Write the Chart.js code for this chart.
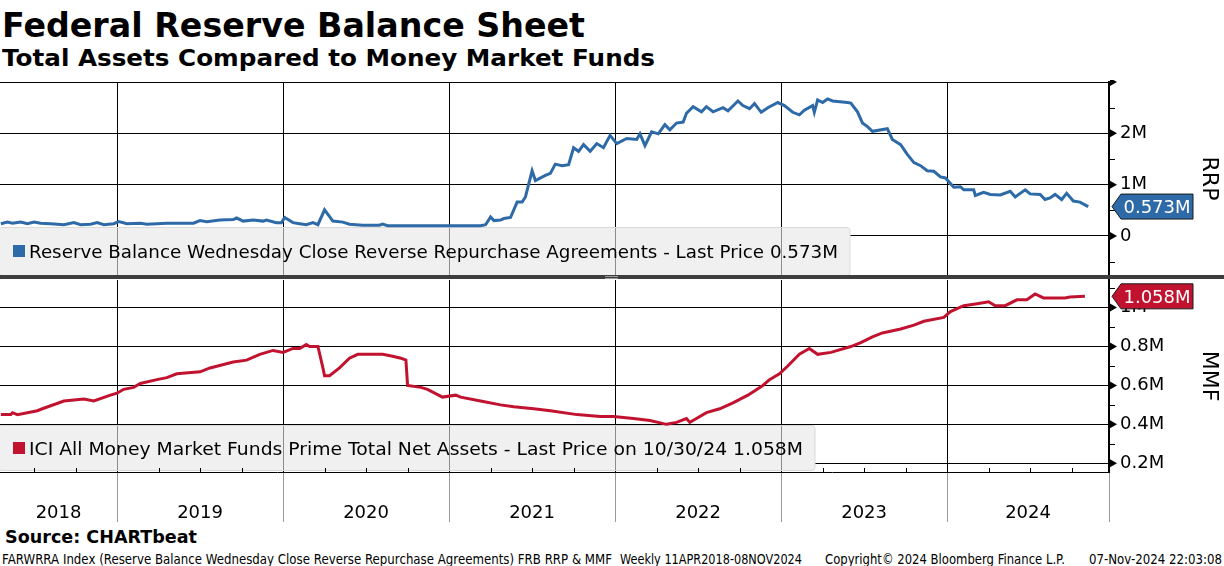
<!DOCTYPE html>
<html>
<head>
<meta charset="utf-8">
<script src="https://cdn.jsdelivr.net/npm/chart.js@4.4.1/dist/chart.umd.min.js"></script>
<style>
	body { margin: 0; background: #fff; width: 1224px; height: 566px; overflow: hidden; position: relative; font-family: "DejaVu Sans", sans-serif; color: #000; }
	.t { position: absolute; white-space: nowrap; line-height: 1; transform-origin: 0 50%; }
	.b { font-weight: bold; }
	canvas { position: absolute; left: 0; }
	#sep { position: absolute; left: 0; top: 275px; width: 1224px; height: 4px; background: #3d3d3d; }
	#grip { position: absolute; left: 605px; top: 276px; width: 13px; height: 1px; border-top: 1px solid #9a9a9a; border-bottom: 1px solid #9a9a9a; }
	.badge { position: absolute; width: 72px; text-align: center; color: #fff; font-size: 18px; line-height: 1; }
</style>
</head>
<body>
<div class="t b" style="left:2px;top:7.6px;font-size:34px" data-w="583">Federal Reserve Balance Sheet</div>
<div class="t b" style="left:2px;top:47.3px;font-size:23px" data-w="653">Total Assets Compared to Money Market Funds</div>

<canvas id="rrpChart" width="1224" height="195" style="top:80px"></canvas>
<div id="sep"></div><div id="grip"></div>
<canvas id="mmfChart" width="1224" height="243" style="top:279px"></canvas>

<div class="t" style="left:29px;top:243px;font-size:18px" data-w="809">Reserve Balance Wednesday Close Reverse Repurchase Agreements - Last Price 0.573M</div>
<div class="t" style="left:29px;top:440.3px;font-size:18px" data-w="774">ICI All Money Market Funds Prime Total Net Assets - Last Price on 10/30/24 1.058M</div>
<div class="badge" id="rrpBadge">0.573M</div>
<div class="badge" id="mmfBadge">1.058M</div>
<div id="years"></div>

<div class="t b" style="left:5px;top:528px;font-size:18px" data-w="192">Source: CHARTbeat</div>
<div class="t" style="left:2px;top:552.5px;font-size:13.5px" data-w="610">FARWRRA Index (Reserve Balance Wednesday Close Reverse Repurchase Agreements) FRB RRP &amp; MMF</div>
<div class="t" style="left:620px;top:552.5px;font-size:13.5px" data-w="182">Weekly 11APR2018-08NOV2024</div>
<div class="t" style="left:825px;top:552.5px;font-size:13.5px" data-w="240">Copyright© 2024 Bloomberg Finance L.P.</div>
<div class="t" style="left:1089px;top:552.5px;font-size:13.5px" data-w="133">07-Nov-2024 22:03:08</div>

<script>
// dates as decimal years, values in millions (USD bn shown as M by Bloomberg)
const rrpDates = [
	2018.30, 2018.34, 2018.37, 2018.42, 2018.46, 2018.50, 2018.54, 2018.60, 2018.68, 2018.74,
	2018.78, 2018.84, 2018.88, 2018.92, 2018.98, 2019.01, 2019.06, 2019.14, 2019.18, 2019.30,
	2019.46, 2019.50, 2019.54, 2019.62, 2019.70, 2019.72, 2019.76, 2019.82, 2019.88, 2019.90,
	2019.96, 2019.99, 2020.01, 2020.06, 2020.10, 2020.14, 2020.18, 2020.21, 2020.25, 2020.30,
	2020.36, 2020.40, 2020.48, 2020.58, 2020.60, 2020.63, 2020.70, 2020.95, 2021.19, 2021.22,
	2021.25, 2021.27, 2021.31, 2021.33, 2021.37, 2021.41, 2021.44, 2021.46, 2021.50, 2021.52,
	2021.58, 2021.61, 2021.64, 2021.68, 2021.72, 2021.75, 2021.78, 2021.81, 2021.85, 2021.89,
	2021.93, 2021.97, 2022.01, 2022.07, 2022.13, 2022.15, 2022.18, 2022.22, 2022.26, 2022.30,
	2022.33, 2022.37, 2022.41, 2022.43, 2022.47, 2022.52, 2022.55, 2022.59, 2022.65, 2022.68,
	2022.74, 2022.77, 2022.81, 2022.84, 2022.88, 2022.92, 2022.98, 2023.02, 2023.07, 2023.11,
	2023.14, 2023.19, 2023.20, 2023.22, 2023.25, 2023.28, 2023.31, 2023.40, 2023.42, 2023.46,
	2023.49, 2023.52, 2023.55, 2023.64, 2023.67, 2023.72, 2023.76, 2023.80, 2023.84, 2023.88,
	2023.92, 2023.96, 2023.99, 2024.04, 2024.08, 2024.10, 2024.16, 2024.17, 2024.22, 2024.26,
	2024.32, 2024.38, 2024.41, 2024.44, 2024.47, 2024.50, 2024.56, 2024.59, 2024.62, 2024.65,
	2024.69, 2024.72, 2024.76, 2024.80, 2024.85
];
const rrpValues = [
	0.24, 0.27, 0.25, 0.27, 0.24, 0.27, 0.25, 0.24, 0.22, 0.26,
	0.22, 0.23, 0.26, 0.22, 0.24, 0.28, 0.24, 0.25, 0.23, 0.25,
	0.25, 0.30, 0.28, 0.31, 0.32, 0.35, 0.29, 0.31, 0.29, 0.31,
	0.26, 0.26, 0.36, 0.26, 0.24, 0.22, 0.26, 0.22, 0.51, 0.29,
	0.27, 0.23, 0.21, 0.21, 0.23, 0.20, 0.20, 0.20, 0.20, 0.22,
	0.37, 0.30, 0.31, 0.34, 0.36, 0.66, 0.66, 0.76, 1.27, 1.08,
	1.18, 1.22, 1.40, 1.37, 1.39, 1.72, 1.65, 1.78, 1.65, 1.80,
	1.72, 1.96, 1.80, 1.90, 1.88, 1.99, 1.76, 2.03, 1.99, 2.17,
	2.07, 2.20, 2.22, 2.39, 2.52, 2.42, 2.52, 2.42, 2.50, 2.44,
	2.63, 2.54, 2.48, 2.58, 2.41, 2.50, 2.60, 2.54, 2.41, 2.36,
	2.45, 2.54, 2.41, 2.65, 2.60, 2.67, 2.63, 2.60, 2.59, 2.42,
	2.20, 2.13, 2.04, 2.09, 1.88, 1.78, 1.59, 1.43, 1.37, 1.27,
	1.26, 1.15, 1.13, 0.95, 0.96, 0.90, 0.90, 0.79, 0.85, 0.81,
	0.80, 0.87, 0.76, 0.83, 0.90, 0.82, 0.81, 0.71, 0.74, 0.81,
	0.71, 0.83, 0.68, 0.66, 0.573
];
const mmfDates = [
	2018.30, 2018.36, 2018.37, 2018.40, 2018.52, 2018.55, 2018.68, 2018.80, 2018.86, 2018.96,
	2019.00, 2019.04, 2019.10, 2019.14, 2019.24, 2019.30, 2019.36, 2019.50, 2019.56, 2019.70,
	2019.78, 2019.86, 2019.94, 2020.00, 2020.06, 2020.10, 2020.14, 2020.16, 2020.21, 2020.24,
	2020.25, 2020.28, 2020.34, 2020.40, 2020.45, 2020.57, 2020.60, 2020.66, 2020.71, 2020.74,
	2020.75, 2020.83, 2020.87, 2020.96, 2021.04, 2021.07, 2021.19, 2021.31, 2021.39, 2021.51,
	2021.61, 2021.77, 2021.91, 2021.99, 2022.11, 2022.21, 2022.31, 2022.37, 2022.43, 2022.45,
	2022.49, 2022.55, 2022.63, 2022.71, 2022.80, 2022.89, 2022.93, 2022.99, 2023.04, 2023.11,
	2023.17, 2023.22, 2023.30, 2023.42, 2023.48, 2023.55, 2023.61, 2023.72, 2023.80, 2023.86,
	2023.98, 2024.02, 2024.10, 2024.18, 2024.25, 2024.29, 2024.35, 2024.42, 2024.48, 2024.53,
	2024.58, 2024.68, 2024.71, 2024.74, 2024.83
];
const mmfValues = [
	0.45, 0.45, 0.46, 0.45, 0.47, 0.48, 0.52, 0.53, 0.52, 0.55,
	0.56, 0.58, 0.59, 0.61, 0.63, 0.64, 0.66, 0.67, 0.69, 0.72,
	0.73, 0.76, 0.78, 0.77, 0.79, 0.79, 0.81, 0.80, 0.80, 0.69,
	0.65, 0.65, 0.69, 0.74, 0.76, 0.76, 0.76, 0.75, 0.74, 0.73,
	0.60, 0.59, 0.58, 0.54, 0.55, 0.54, 0.52, 0.50, 0.49, 0.48,
	0.47, 0.45, 0.44, 0.44, 0.43, 0.42, 0.40, 0.41, 0.43, 0.41,
	0.43, 0.46, 0.48, 0.51, 0.55, 0.60, 0.63, 0.66, 0.70, 0.76,
	0.79, 0.76, 0.77, 0.80, 0.82, 0.85, 0.87, 0.89, 0.91, 0.93,
	0.95, 0.98, 1.01, 1.02, 1.03, 1.01, 1.01, 1.04, 1.04, 1.07,
	1.05, 1.05, 1.05, 1.055, 1.058
];
const yearLabels = ['2018', '2019', '2020', '2021', '2022', '2023', '2024'];
const yearBreaks = [2019, 2020, 2021, 2022, 2023, 2024];
const rrpTicks = [0, 1, 2, 3];
const rrpMinor = [-0.5, 0.5, 1.5, 2.5];
const mmfTicks = [0.2, 0.4, 0.6, 0.8, 1];
const mmfMinor = [0.3, 0.5, 0.7, 0.9, 1.1];

const X_MIN = 2018.295;
const X_MAX = 2024.975;
const BLUE = '#2d6aa7';
const RED = '#c1132f';
const FONT = 'DejaVu Sans';

function fitTexts() {
	document.querySelectorAll('[data-w]').forEach((el) => {
		const w = el.getBoundingClientRect().width;
		el.style.transform = `scaleX(${Number(el.dataset.w) / w})`;
	});
}

const bbgPlugin = {
	id: 'bbg',
	beforeDatasetsDraw(chart, args, opts) {
		const { ctx } = chart;
		const xs = chart.scales.x;
		const b = opts.box;
		ctx.save();
		ctx.fillStyle = '#f0f0f0';
		ctx.strokeStyle = '#dadada';
		ctx.lineWidth = 1;
		ctx.beginPath();
		ctx.roundRect(b.x - 1, b.y + 0.5, b.w + 1, b.h, 3);
		ctx.fill();
		ctx.stroke();
		ctx.strokeStyle = '#8c8c8c';
		yearBreaks.forEach((v) => {
			const px = Math.round(xs.getPixelForValue(v)) + 0.5;
			if (px < b.x + b.w) {
				ctx.beginPath();
				ctx.moveTo(px, b.y + 1);
				ctx.lineTo(px, b.y + b.h);
				ctx.stroke();
			}
		});
		ctx.fillStyle = opts.color;
		ctx.fillRect(b.x + 13, b.y + Math.round(b.h / 2) - 6, 12, 12);
		ctx.restore();
	},
	afterDraw(chart, args, opts) {
		const { ctx, chartArea } = chart;
		const ys = chart.scales.y;
		const xs = chart.scales.x;
		const r = chartArea.right;
		ctx.save();
		ctx.fillStyle = '#000';
		ctx.strokeStyle = '#000';
		ctx.lineWidth = 1;
		opts.major.forEach((v) => {
			const py = ys.getPixelForValue(v);
			ctx.beginPath();
			ctx.moveTo(r + 1, py - 4);
			ctx.lineTo(r + 8, py);
			ctx.lineTo(r + 1, py + 4);
			ctx.closePath();
			ctx.fill();
		});
		opts.minor.forEach((v) => {
			const py = Math.round(ys.getPixelForValue(v)) + 0.5;
			ctx.beginPath();
			ctx.moveTo(r + 1, py);
			ctx.lineTo(r + 6, py);
			ctx.stroke();
		});
		if (opts.quarters) {
			for (let q = Math.ceil(X_MIN * 4) / 4; q < X_MAX; q += 0.25) {
				if (q % 1 === 0) continue;
				const px = Math.round(xs.getPixelForValue(q)) + 0.5;
				ctx.beginPath();
				ctx.moveTo(px, chartArea.bottom);
				ctx.lineTo(px, chartArea.bottom - 4);
				ctx.stroke();
			}
		}
		// last value badge
		const py = ys.getPixelForValue(opts.last);
		ctx.fillStyle = opts.color;
		ctx.strokeStyle = '#1a1a1a';
		ctx.beginPath();
		ctx.moveTo(r + 3, py);
		ctx.lineTo(r + 12, py - 12.5);
		ctx.lineTo(r + 84, py - 12.5);
		ctx.lineTo(r + 84, py + 12.5);
		ctx.lineTo(r + 12, py + 12.5);
		ctx.closePath();
		ctx.fill();
		ctx.stroke();
		ctx.restore();
		const el = document.getElementById(opts.badgeId);
		el.style.left = (r + 12) + 'px';
		el.style.top = (chart.canvas.offsetTop + py - 8.7) + 'px';
	},
};

function fmt(v) {
	if (v === 0) return '0';
	return v + 'M';
}

function makeChart(id, dates, values, cfg) {
	return new Chart(document.getElementById(id), {
		type: 'line',
		data: {
			datasets: [{
				data: dates.map((d, i) => ({ x: d, y: values[i] })),
				borderColor: cfg.color,
				borderWidth: 3,
				pointRadius: 0,
				tension: 0,
			}],
		},
		options: {
			responsive: false,
			animation: false,
			layout: { padding: { top: cfg.padTop, left: 0, right: 0, bottom: 0 } },
			plugins: {
				legend: { display: false },
				tooltip: { enabled: false },
				bbg: cfg.bbg,
			},
			scales: {
				x: {
					type: 'linear',
					min: X_MIN,
					max: X_MAX,
					afterBuildTicks: (s) => { s.ticks = cfg.xTicks.map((v) => ({ value: v })); },
					afterFit: (s) => { s.paddingLeft = 0; s.paddingRight = 0; },
					ticks: { display: false },
					grid: { color: '#000', lineWidth: 1, drawTicks: cfg.xTickLen > 0, tickLength: cfg.xTickLen, tickColor: '#999' },
					border: { display: cfg.xBorder, color: '#000', width: 1 },
				},
				y: {
					position: 'right',
					min: cfg.yMin,
					max: cfg.yMax,
					afterBuildTicks: (s) => { s.ticks = cfg.yTicks.map((v) => ({ value: v })); },
					afterFit: (s) => { s.width = 115; s.paddingTop = 0; s.paddingBottom = 0; },
					ticks: {
						autoSkip: false,
						padding: 11,
						color: '#000',
						font: { family: FONT, size: 18 },
						callback: (v) => (v === cfg.hideTick ? '' : fmt(v)),
					},
					grid: { color: '#000', lineWidth: 1, drawTicks: false },
					border: { display: true, color: '#000', width: 2 },
					title: {
						display: true,
						text: cfg.title,
						color: '#000',
						font: { family: FONT, size: 22 },
						padding: { top: 2, bottom: 0 },
					},
				},
			},
		},
		plugins: [bbgPlugin],
	});
}

makeChart('rrpChart', rrpDates, rrpValues, {
	color: BLUE,
	padTop: 2,
	yMin: -0.76,
	yMax: 3,
	yTicks: rrpTicks,
	hideTick: 3,
	title: 'RRP',
	xTicks: yearBreaks,
	xTickLen: 0,
	xBorder: false,
	bbg: { box: { x: 0, y: 147, w: 850, h: 48 }, color: BLUE, major: rrpTicks, minor: rrpMinor, last: rrpValues[rrpValues.length - 1], badgeId: 'rrpBadge' },
});

const mmfChart = makeChart('mmfChart', mmfDates, mmfValues, {
	color: RED,
	padTop: 1,
	yMin: 0.155,
	yMax: 1.142,
	yTicks: mmfTicks,
	hideTick: null,
	title: 'MMF',
	xTicks: yearBreaks.concat([X_MAX]),
	xTickLen: 50,
	xBorder: true,
	bbg: { box: { x: 0, y: 146, w: 815, h: 45 }, color: RED, major: mmfTicks, minor: mmfMinor, last: mmfValues[mmfValues.length - 1], badgeId: 'mmfBadge', quarters: true },
});

// year labels centred in the visible part of each year
const xs = mmfChart.scales.x;
const yearsEl = document.getElementById('years');
yearLabels.forEach((label) => {
	const y0 = Math.max(Number(label), X_MIN);
	const y1 = Math.min(Number(label) + 1, X_MAX);
	const cx = (xs.getPixelForValue(y0) + xs.getPixelForValue(y1)) / 2;
	const el = document.createElement('div');
	el.className = 't';
	el.style.cssText = `left:${cx - 60}px;width:120px;text-align:center;top:503px;font-size:18px`;
	el.textContent = label;
	yearsEl.appendChild(el);
});

fitTexts();
</script>
</body>
</html>
